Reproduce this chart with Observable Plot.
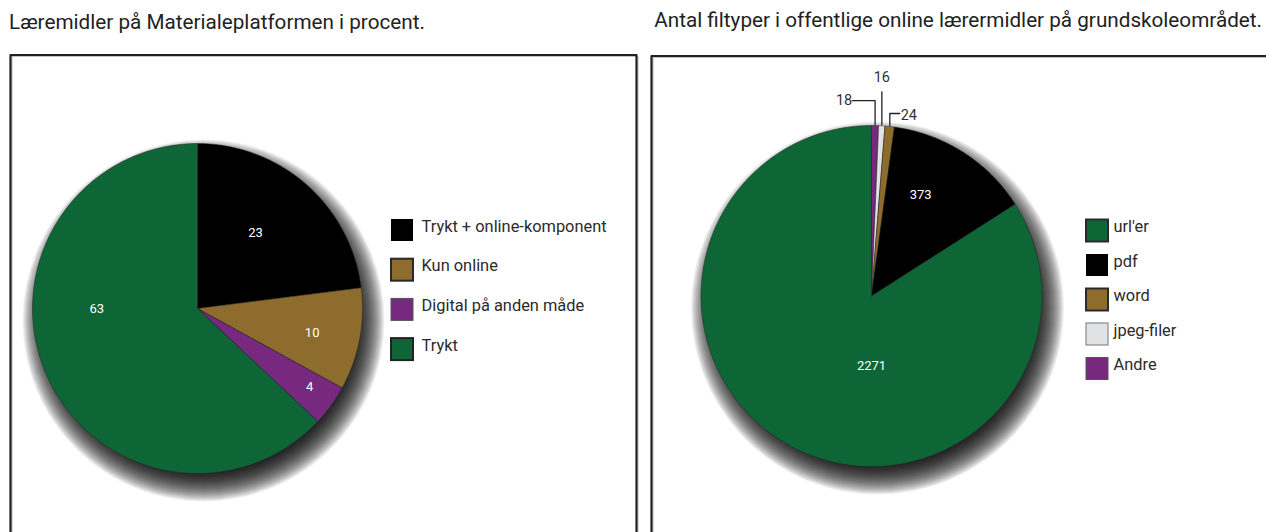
<!DOCTYPE html>
<html><head><meta charset="utf-8">
<script src="https://cdn.jsdelivr.net/npm/d3@7"></script>
<script src="https://cdn.jsdelivr.net/npm/@observablehq/plot@0.6"></script>
<style>
html,body{margin:0;padding:0;background:#fff;overflow:hidden;}
#head{position:relative;height:44px;width:1266px;font-family:Roboto,sans-serif;}
.t{position:absolute;font-size:20.7px;line-height:24px;color:#222;white-space:nowrap;}
#t1{left:9px;top:10px;}
#t2{right:4px;top:8px;}
</style></head><body>
<div id="head"><div class="t" id="t1">Læremidler på Materialeplatformen i procent.</div><div class="t" id="t2">Antal filtyper i offentlige online lærermidler på grundskoleområdet.</div></div>
<div id="chart"></div>
<script>
// ---- data ----
const leftCategories = ["Trykt + online-komponent", "Kun online", "Digital på anden måde", "Trykt"];
const leftValues = [23, 10, 4, 63];
const rightCategories = ["url'er", "pdf", "word", "jpeg-filer", "Andre"];
const rightValues = [2271, 373, 24, 16, 18];
// ---- styles ----
const leftColors = ["#000000", "#8e6c2d", "#77297f", "#0e6536"];
const leftBorders = ["#000000", "#2a2a2a", "#555555", "#222222"];
const leftBorderW = [0, 2, 1, 2];
const rightColors = ["#0e6536", "#000000", "#8e6c2d", "#e1e2e4", "#77297f"];
const rightBorders = ["#2a2a2a", "#000000", "#2a2a2a", "#777777", "#555555"];
const rightBorderW = [2, 0, 2, 1, 1];
// right pie is drawn clockwise from the top in reverse legend order
const rightPieOrder = [4, 3, 2, 1, 0];

// ---- layout ----
const W = 1266, TOP = 44, H = 532 - TOP;
const L = {cx: 197, cy: 308, r: 165};
const R = {cx: 871, cy: 295.5, r: 170.5};
// label placement: radius fraction and angle shift (deg) relative to slice centroid
const leftLabelPlace = [{f: 0.58, da: -4}, {f: 0.71, da: 1}, {f: 0.83, da: -1}, {f: 0.61, da: 23.4}];
const rightLabelPlace = [{f: 0.41, da: -28.7}, {f: 0.66, da: -6.7}, null, null, null];
// callouts for small right slices (by category index): vertical rise, horizontal run
const callouts = {4: {rise: -24, run: -23}, 3: {rise: -33, run: 0}, 2: {rise: -12, run: 10}};
// soft drop shadow built from stacked translucent discs
const shadowOffset = {dx: 6, dy: 12};
const shadowSteps = d3.range(-16, 17, 1);

function pie(values, order, colors, c, key) {
  const vals = order.map(i => values[i]);
  const arcs = d3.pie().sort(null)(vals);
  const pts = [];
  const info = [];
  arcs.forEach((a, j) => {
    const i = order[j];
    const n = Math.max(2, Math.ceil((a.endAngle - a.startAngle) / (Math.PI / 360)));
    pts.push({k: key + i, x: c.cx, y: c.cy, fill: colors[i]});
    for (let s = 0; s <= n; s++) {
      const t = a.startAngle + (a.endAngle - a.startAngle) * s / n;
      pts.push({k: key + i, x: c.cx + c.r * Math.sin(t), y: c.cy - c.r * Math.cos(t), fill: colors[i]});
    }
    pts.push({k: key + i, x: c.cx, y: c.cy, fill: colors[i]});
    info[i] = {mid: (a.startAngle + a.endAngle) / 2, value: values[i]};
  });
  return {pts, info};
}

const lp = pie(leftValues, [0, 1, 2, 3], leftColors, L, "L");
const rp = pie(rightValues, rightPieOrder, rightColors, R, "R");

function labelsFor(p, place, c) {
  const out = [];
  place.forEach((pl, i) => {
    if (!pl) return;
    const a = p.info[i].mid + pl.da * Math.PI / 180;
    out.push({x: c.cx + c.r * pl.f * Math.sin(a), y: c.cy - c.r * pl.f * Math.cos(a), text: String(p.info[i].value)});
  });
  return out;
}
const leftLabels = labelsFor(lp, leftLabelPlace, L);
const rightLabels = labelsFor(rp, rightLabelPlace, R);

// callout lines and texts
const calloutPts = [], calloutText = [];
Object.entries(callouts).forEach(([i, co]) => {
  const a = rp.info[i].mid;
  const ex = R.cx + (R.r + 1) * Math.sin(a), ey = R.cy - (R.r + 1) * Math.cos(a);
  calloutPts.push({k: i, x: ex, y: ey}, {k: i, x: ex, y: ey + co.rise}, {k: i, x: ex + co.run, y: ey + co.rise});
  const txt = String(rp.info[i].value);
  if (co.run < 0) calloutText.push({x: ex + co.run - 8, y: ey + co.rise, text: txt, anchor: "end"});
  else if (co.run > 0) calloutText.push({x: ex + co.run + 9, y: ey + co.rise + 2, text: txt, anchor: "start"});
  else calloutText.push({x: ex, y: ey + co.rise - 14, text: txt, anchor: "middle"});
});

// shadow discs
const shadows = [];
[L, R].forEach(c => shadowSteps.forEach(s => shadows.push({x: c.cx + shadowOffset.dx, y: c.cy + shadowOffset.dy, r: c.r + s})));
shadows.sort((a, b) => b.r - a.r);

// legends
const leftLegend = leftCategories.map((c, i) => ({c, i, fill: leftColors[i], stroke: leftBorders[i], sw: leftBorderW[i],
  x1: 391, x2: 413, y1: 219 + i * 39.7, y2: 241 + i * 39.7}));
const rightLegend = rightCategories.map((c, i) => ({c, i, fill: rightColors[i], stroke: rightBorders[i], sw: rightBorderW[i],
  x1: 1086, x2: 1108, y1: 219.5 + i * 34.5, y2: 241.5 + i * 34.5}));

// panel frames (three sided, running off the bottom)
const frames = [
  {k: "a", x: 10, y: 600}, {k: "a", x: 10, y: 54.5}, {k: "a", x: 636, y: 54.5}, {k: "a", x: 636, y: 600},
  {k: "b", x: 651, y: 600}, {k: "b", x: 651, y: 55.5}, {k: "b", x: W + 20, y: 55.5}
];

const legendMarks = (leg, tx) => [
  Plot.rect(leg.filter(d => d.sw > 0), {x1: "x1", x2: "x2", y1: "y1", y2: "y2", fill: "fill", stroke: "stroke", strokeWidth: d => d.sw}),
  Plot.rect(leg.filter(d => d.sw === 0), {x1: "x1", x2: "x2", y1: "y1", y2: "y2", fill: "fill"}),
  Plot.text(leg, {x: tx, y: d => (d.y1 + d.y2) / 2 - 4, text: "c", textAnchor: "start", lineAnchor: "middle",
    fontSize: 16.4, fill: "#2b2b2b", fontFamily: "Roboto"})
];

const sliceMark = (pts) => Plot.line(pts, {x: "x", y: "y", z: "k", fill: "fill", stroke: "#262626", strokeWidth: 0.5, curve: "linear"});

const plot = Plot.plot({
  width: W, height: H, margin: 0,
  x: {domain: [0, W], range: [0, W], axis: null},
  y: {domain: [TOP, TOP + H], range: [0, H], axis: null},
  r: {type: "identity"},
  color: {type: "identity"},
  style: {background: "#fff", overflow: "visible"},
  marks: [
    Plot.line(frames, {x: d => d.x + 1.5, y: d => d.y + 1.5, z: "k", stroke: "#c4c4c4", strokeWidth: 1.2}),
    Plot.line(frames, {x: "x", y: "y", z: "k", stroke: "#231f20", strokeWidth: 2.2}),
    Plot.dot(shadows, {x: "x", y: "y", r: "r", fill: "#000", fillOpacity: 0.058, stroke: null}),
    sliceMark(lp.pts),
    sliceMark(rp.pts),
    Plot.text(leftLabels, {x: "x", y: "y", text: "text", fill: "#fff", fontSize: 13, fontFamily: "Roboto", lineAnchor: "middle"}),
    Plot.text(rightLabels, {x: "x", y: "y", text: "text", fill: "#fff", fontSize: 13, fontFamily: "Roboto", lineAnchor: "middle"}),
    Plot.line(calloutPts, {x: "x", y: "y", z: "k", stroke: "#222", strokeWidth: 1.3}),
    Plot.text(calloutText, {x: "x", y: "y", text: "text", textAnchor: d => d.anchor, fill: "#333", fontSize: 14.5, fontFamily: "Roboto", lineAnchor: "middle"}),
    ...legendMarks(leftLegend, 421),
    ...legendMarks(rightLegend, 1113)
  ]
});

document.getElementById("chart").appendChild(plot);
</script>
</body></html>
